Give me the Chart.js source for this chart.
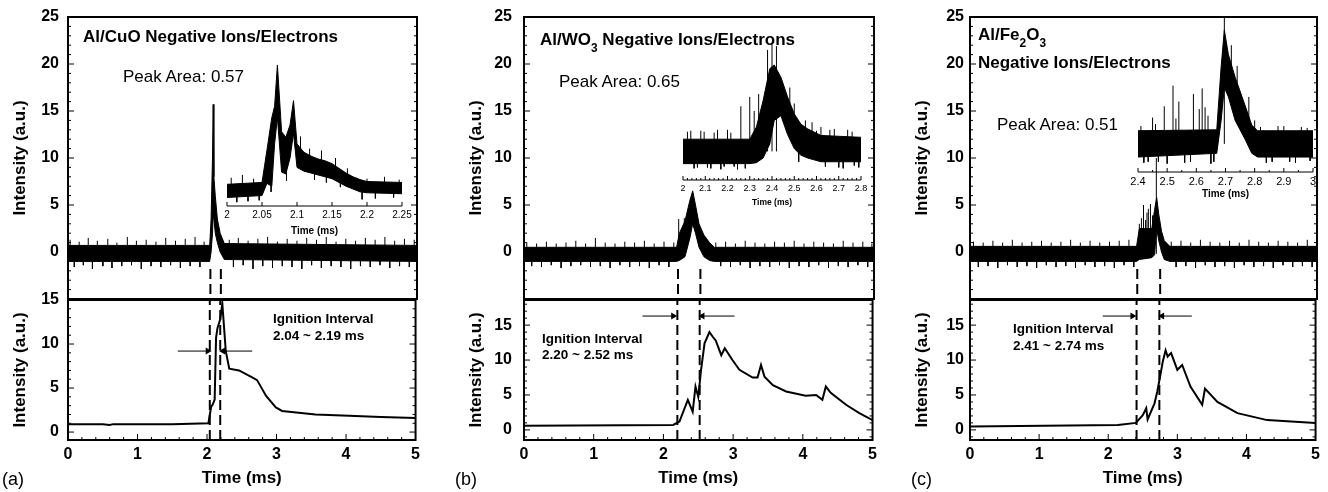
<!DOCTYPE html>
<html>
<head>
<meta charset="utf-8">
<script src="https://cdn.jsdelivr.net/npm/chart.js@4.4.0/dist/chart.umd.min.js"></script>
<style>
  html, body { margin: 0; padding: 0; background: #fff; }
  #fig { position: relative; width: 1328px; height: 492px; overflow: hidden; background: #fff;
         font-family: "Liberation Sans", Arial, Helvetica, sans-serif; color: #000; }
  #fig canvas { position: absolute; }
  .lbl { position: absolute; white-space: nowrap; line-height: 1; }
  .lbl sub { font-size: 70%; line-height: 0; vertical-align: -0.55em; }
</style>
</head>
<body>
<div id="fig"></div>
<script>
// ---- main traces (top plots): noise band envelope ----
const aTopX  = [0, 2.03, 2.05, 2.07, 2.08, 2.09, 2.11, 2.14, 2.18, 2.24, 5];
const aTopHi = [0.7, 0.7, 3.5, 10, 15.7, 8, 6, 3.5, 2, 0.9, 0.7];
const aTopLo = [-1, -1, 0, 2, 4, 3.5, 2, 1, 0, -0.8, -1];
// noise spikes sticking out of the band: [time, tip, (base)]
const aSpikes = [[0.03,1.3],[0.09,-1.6],[0.16,1.1],[0.22,-1.4],[0.29,1.5],[0.35,-1.8],[0.42,1.2],[0.5,-1.5],[0.57,1.4],[0.63,-1.7],[0.7,1.0],[0.77,-1.5],[0.85,1.6],[0.91,-1.4],[0.98,1.2],[1.05,-1.8],[1.12,1.3],[1.19,-1.5],[1.26,1.1],[1.33,-1.6],[1.4,1.5],[1.47,-1.4],[1.54,1.2],[1.61,-1.7],[1.68,1.4],[1.75,-1.5],[1.82,1.6],[1.89,-1.6],[1.95,1.1],[2.31,1.3],[2.37,-1.6],[2.44,1.5],[2.51,-1.4],[2.58,1.2],[2.65,-1.8],[2.72,1.4],[2.79,-1.5],[2.86,1.6],[2.93,-1.7],[3.0,1.1],[3.07,-1.5],[3.14,1.4],[3.21,-1.6],[3.28,1.2],[3.35,-1.8],[3.42,1.5],[3.49,-1.4],[3.56,1.3],[3.63,-1.7],[3.7,1.6],[3.77,-1.5],[3.84,1.1],[3.91,-1.6],[3.98,1.4],[4.05,-1.8],[4.12,1.2],[4.19,-1.5],[4.26,1.5],[4.33,-1.6],[4.4,1.3],[4.47,-1.4],[4.54,1.6],[4.61,-1.7],[4.68,1.2],[4.75,-1.5],[4.82,1.4],[4.89,-1.6],[4.96,1.3]];

const bTopX  = [0, 2.18, 2.22, 2.30, 2.37, 2.41, 2.45, 2.50, 2.57, 2.65, 2.72, 5];
const bTopHi = [0.5, 0.5, 2.0, 3.3, 5.5, 6.5, 5.0, 3.0, 1.8, 1.0, 0.5, 0.5];
const bTopLo = [-1, -1, -0.9, -0.5, 1.5, 3, 2, 0.5, -0.5, -0.9, -1, -1];
const bSpikes = [[0.04,1.0],[0.11,-1.5],[0.18,0.9],[0.25,-1.6],[0.32,1.1],[0.39,-1.4],[0.46,0.9],[0.53,-1.7],[0.6,1.0],[0.67,-1.5],[0.74,1.2],[0.81,-1.4],[0.88,0.9],[0.95,-1.6],[1.02,1.5],[1.09,-1.5],[1.16,1.0],[1.23,-1.7],[1.3,0.9],[1.37,-1.4],[1.44,1.1],[1.51,-1.6],[1.58,1.0],[1.65,-1.5],[1.72,1.2],[1.79,-1.7],[1.86,0.9],[1.93,-1.4],[2.0,1.1],[2.07,-1.6],[2.14,1.0],[2.21,3.5],[2.29,3.6],[2.74,1.0],[2.81,-1.5],[2.88,1.1],[2.95,-1.6],[3.02,0.9],[3.09,-1.4],[3.16,1.2],[3.23,-1.7],[3.3,1.0],[3.37,-1.5],[3.44,0.9],[3.51,-1.6],[3.58,1.1],[3.65,-1.4],[3.72,1.0],[3.79,-1.7],[3.86,1.2],[3.93,-1.5],[4.0,0.9],[4.07,-1.6],[4.14,1.1],[4.21,-1.4],[4.28,1.0],[4.35,-1.7],[4.42,0.9],[4.49,-1.5],[4.56,1.2],[4.63,-1.6],[4.7,1.0],[4.77,-1.4],[4.84,1.1],[4.91,-1.6],[4.97,0.9]];

const cTopX  = [0, 2.40, 2.44, 2.62, 2.66, 2.69, 2.72, 2.76, 2.80, 2.88, 5];
const cTopHi = [0.6, 0.6, 2.5, 2.5, 4.5, 5.8, 4.0, 2.2, 1.2, 0.6, 0.6];
const cTopLo = [-1, -1, -0.8, -0.6, -0.3, 2.5, 1.2, 0, -0.8, -1, -1];
const cSpikes = [[0.05,1.1],[0.12,-1.6],[0.19,1.0],[0.26,-1.5],[0.33,1.2],[0.4,-1.7],[0.47,1.0],[0.54,-1.4],[0.61,1.3],[0.68,-1.6],[0.75,1.0],[0.82,-1.5],[0.89,1.1],[0.96,-1.7],[1.03,1.2],[1.1,-1.4],[1.17,1.0],[1.24,-1.6],[1.31,1.1],[1.38,-1.5],[1.45,1.3],[1.52,-1.7],[1.59,1.0],[1.66,-1.4],[1.73,1.2],[1.8,-1.6],[1.87,1.0],[1.94,-1.5],[2.01,1.1],[2.08,-1.7],[2.15,1.2],[2.22,-1.4],[2.29,1.3],[2.36,-1.6],[2.44,3.0],[2.47,3.6],[2.5,5.0],[2.53,3.4],[2.55,4.2],[2.57,4.6],[2.6,5.1],[2.63,3.9],[2.685,10.0],[2.9,1.1],[2.97,-1.6],[3.04,1.2],[3.11,-1.5],[3.18,1.0],[3.25,-1.7],[3.32,1.3],[3.39,-1.4],[3.46,1.1],[3.53,-1.6],[3.6,1.0],[3.67,-1.5],[3.74,1.2],[3.81,-1.7],[3.88,1.0],[3.95,-1.4],[4.02,1.3],[4.09,-1.6],[4.16,1.1],[4.23,-1.5],[4.3,1.0],[4.37,-1.7],[4.44,1.2],[4.51,-1.4],[4.58,1.1],[4.65,-1.6],[4.72,1.0],[4.79,-1.5],[4.86,1.3],[4.93,-1.6]];

// ---- insets (heights given in the main plot's intensity units) ----
const iaX  = [2.0, 2.05, 2.057, 2.064, 2.068, 2.072, 2.078, 2.084, 2.09, 2.095, 2.10, 2.11, 2.12, 2.13, 2.14, 2.15, 2.16, 2.17, 2.18, 2.19, 2.2, 2.25];
const iaHi = [7.2, 7.4, 10.8, 14.3, 15.5, 19.9, 12.8, 12.2, 13.5, 16.1, 11.5, 10.6, 10.2, 9.9, 9.7, 9.4, 8.9, 8.4, 8.0, 7.7, 7.5, 7.4];
const iaLo = [5.8, 6.0, 7.3, 7.0, 11.5, 14.3, 8.5, 8.3, 10.0, 12.6, 9.0, 8.6, 8.4, 8.2, 8.0, 7.8, 7.4, 7.0, 6.7, 6.4, 6.3, 6.2];
const iaSpikes = [[2.006,7.9],[2.014,5.3],[2.022,8.2],[2.03,5.4],[2.038,7.8],[2.046,5.5],[2.063,6.4,9],[2.085,7.6,10],[2.105,12.3,10],[2.118,11.0,9.4],[2.125,7.7,9.3],[2.135,10.8,9],[2.142,7.4,8.8],[2.155,10.0,8.6],[2.162,6.9,8.2],[2.172,8.9,7.6],[2.185,7.9],[2.193,5.6],[2.2,7.8],[2.212,5.7],[2.225,8.0],[2.238,5.8],[2.246,7.7]];

const ibX  = [2.0, 2.30, 2.33, 2.36, 2.39, 2.41, 2.44, 2.47, 2.50, 2.53, 2.56, 2.62, 2.8];
const ibHi = [12.0, 12.0, 13.3, 16.1, 19.5, 19.9, 18.6, 16.5, 14.7, 13.6, 13.1, 12.4, 12.2];
const ibLo = [9.4, 9.4, 9.5, 10.0, 11.5, 14.0, 14.5, 12.5, 11.0, 10.3, 10.0, 9.6, 9.6];
const ibSpikes = [[2.02,12.8],[2.035,12.9],[2.05,8.9],[2.065,9.0],[2.08,12.9],[2.095,12.8],[2.11,9.0],[2.125,8.9],[2.14,12.7],[2.155,13.0],[2.17,8.8],[2.185,9.1],[2.2,13.0],[2.215,12.7],[2.23,9.1],[2.245,8.8],[2.26,15.5],[2.28,8.9],[2.3,16.5],[2.32,15.0],[2.34,16.8],[2.38,21.5],[2.4,22.1],[2.42,21.9],[2.48,17.5,14],[2.5,15.8,12.5],[2.52,9.6,11.5],[2.55,14.0,11.5],[2.58,13.8,11],[2.6,12.9],[2.62,13.3,11],[2.64,9.1],[2.66,13.0],[2.68,13.1],[2.7,9.0],[2.72,8.9],[2.74,13.0],[2.76,12.8],[2.77,9.2],[2.79,9.0]];

const icX  = [2.4, 2.67, 2.685, 2.696, 2.71, 2.733, 2.767, 2.79, 2.81, 3.0];
const icHi = [12.9, 13.0, 19.7, 23.6, 21.0, 18.6, 15.6, 13.5, 12.9, 12.9];
const icLo = [10.1, 10.5, 14.0, 17.5, 16.5, 14.0, 12.0, 10.5, 10.1, 10.1];
const icSpikes = [[2.41,13.4],[2.42,9.5],[2.435,9.6],[2.45,14.3],[2.46,13.6],[2.47,9.6],[2.49,15.5],[2.5,9.4],[2.52,17.7],[2.53,14.2],[2.54,16.0],[2.56,9.5],[2.58,9.6],[2.59,16.8],[2.61,15.2],[2.62,17.4],[2.63,15.4],[2.64,14.5],[2.65,9.4],[2.66,9.6],[2.696,25.0],[2.72,22,18],[2.74,19.8,16],[2.75,13.2,15],[2.78,16.5,13],[2.8,14,12],[2.82,13.3],[2.84,9.5],[2.86,9.6],[2.88,13.4],[2.9,13.4],[2.92,9.6],[2.94,9.5],[2.96,13.3],[2.98,13.2],[2.99,9.7]];

// ---- bottom plots ----
const aBotX = [0, 0.5, 0.6, 0.65, 1.0, 1.5, 2.02, 2.06, 2.08, 2.11, 2.13, 2.15, 2.19, 2.22, 2.27, 2.32, 2.46, 2.65, 2.72, 2.85, 2.99, 3.08, 3.56, 4.04, 4.5, 5.0];
const aBotY = [0.9, 0.9, 0.8, 0.9, 0.9, 0.9, 1.0, 2.9, 3.1, 3.7, 10.7, 11.8, 12.8, 14.6, 9.2, 7.2, 7.0, 6.2, 5.9, 4.1, 2.8, 2.4, 2.0, 1.85, 1.7, 1.6];
const bBotX = [0, 2.14, 2.23, 2.35, 2.42, 2.46, 2.50, 2.54, 2.59, 2.66, 2.71, 2.75, 2.83, 2.88, 2.99, 3.09, 3.28, 3.35, 3.40, 3.45, 3.57, 3.76, 4.04, 4.19, 4.28, 4.33, 4.40, 4.62, 4.81, 5.0];
const bBotY = [0.6, 0.7, 1.2, 4.3, 2.6, 6.2, 4.7, 8.6, 12.4, 14.0, 13.3, 12.8, 10.7, 11.7, 10.0, 8.6, 7.5, 7.5, 9.3, 7.6, 6.4, 5.5, 4.9, 5.0, 4.3, 6.2, 5.3, 3.6, 2.4, 1.4];
const cBotX = [0, 2.14, 2.40, 2.50, 2.55, 2.57, 2.67, 2.71, 2.75, 2.79, 2.83, 2.86, 2.91, 3.0, 3.07, 3.19, 3.36, 3.40, 3.58, 3.87, 4.30, 5.0];
const cBotY = [0.5, 0.7, 1.0, 2.1, 3.1, 1.5, 3.8, 5.5, 7.6, 9.8, 11.4, 10.5, 11.0, 8.6, 9.3, 6.2, 3.6, 5.9, 4.0, 2.4, 1.4, 1.0];

// ignition interval markers (ms) and arrows
const aDash = [2.04, 2.19], bDash = [2.20, 2.52], cDash = [2.41, 2.74];
const aArrowY = 9.2,  aArrowL = [1.58, 2.01], aArrowR = [2.65, 2.23];
const bArrowY = 16.3, bArrowL = [1.70, 2.14], bArrowR = [3.02, 2.56];
const cArrowY = 16.3, cArrowL = [1.92, 2.35], cArrowR = [3.21, 2.78];

const FONT = '"Liberation Sans", Arial, Helvetica, sans-serif';
Chart.defaults.font.family = FONT;
Chart.defaults.color = '#000';
Chart.defaults.animation = false;
Chart.defaults.events = [];
Chart.defaults.plugins.legend.display = false;
Chart.defaults.plugins.tooltip.enabled = false;
Chart.defaults.elements.point.radius = 0;
Chart.defaults.elements.line.tension = 0;

// frame + inward tick marks
const framePlugin = {
  id: 'frame',
  afterDatasetsDraw(chart, args, o) {
    if (!o || !o.mode) return;
    const { ctx, chartArea: a, scales } = chart;
    const marks = (scale, spec, draw) => {
      const start = Math.ceil(scale.min / spec.minor - 1e-6);
      for (let k = start; k * spec.minor <= scale.max + 1e-9; k++) {
        const v = k * spec.minor;
        const r = v / spec.major;
        const major = Math.abs(r - Math.round(r)) < 1e-6;
        draw(scale.getPixelForValue(v), major ? spec.len[0] : spec.len[1]);
      }
    };
    ctx.save();
    ctx.strokeStyle = '#000';
    ctx.lineWidth = o.tickWidth || 1;
    ctx.beginPath();
    if (o.y) marks(scales.y, o.y, (p, L) => {
      ctx.moveTo(a.left, p); ctx.lineTo(a.left + L, p);
      ctx.moveTo(a.right, p); ctx.lineTo(a.right - L, p);
    });
    if (o.x) marks(scales.x, o.x, (p, L) => {
      ctx.moveTo(p, a.bottom); ctx.lineTo(p, a.bottom - L);
    });
    ctx.stroke();
    ctx.lineWidth = o.lineWidth || 1;
    if (o.mode === 'box') {
      ctx.strokeRect(a.left, a.top, a.right - a.left, a.bottom - a.top);
    } else {
      ctx.beginPath();
      ctx.moveTo(a.left, a.bottom); ctx.lineTo(a.right + (o.extra || 0), a.bottom);
      ctx.stroke();
    }
    ctx.restore();
  }
};
Chart.register(framePlugin);

const fig = document.getElementById('fig');
function addCanvas(left, top, w, h) {
  const c = document.createElement('canvas');
  c.width = w; c.height = h;
  c.style.left = left + 'px'; c.style.top = top + 'px';
  c.style.width = w + 'px'; c.style.height = h + 'px';
  fig.appendChild(c);
  return c;
}
const pts = (xs, ys) => xs.map((x, i) => ({ x, y: ys[i] }));
const spikes = (list, base) => list.flatMap(([x, y, b = base]) => [{ x, y: b }, { x, y }, { x, y: null }]);
const vlines = (xs, y0, y1) => xs.flatMap(x => [{ x, y: y0 }, { x, y: y1 }, { x, y: null }]);

const TOP = 17, MID = 299, BOT = 440;        // plot frame rows (px)
const PXU = (MID - TOP) / 30;               // px per intensity unit in the top plots

const panels = [
  { L: 68,  R: 417,  pad: 9,  botMin: -0.9,  botMax: 15,
    band: [aTopX, aTopHi, aTopLo], sp: aSpikes, line: [aBotX, aBotY],
    dash: aDash, arrY: aArrowY, arrL: aArrowL, arrR: aArrowR },
  { L: 524, R: 874,  pad: 12, botMin: -1.45, botMax: 18.6,
    band: [bTopX, bTopHi, bTopLo], sp: bSpikes, line: [bBotX, bBotY],
    dash: bDash, arrY: bArrowY, arrL: bArrowL, arrR: bArrowR },
  { L: 970, R: 1317, pad: 6,  botMin: -1.45, botMax: 18.6,
    band: [cTopX, cTopHi, cTopLo], sp: cSpikes, line: [cBotX, cBotY],
    dash: cDash, arrY: cArrowY, arrL: cArrowL, arrR: cArrowR }
];

const insets = [
  { L: 227, R: 402, top: 40, axisY: 206, axisH: 32, min: 2, max: 2.25, step: 0.05, minor: 0.05,
    tickPad: 3, font: 10, titleFont: 10, titlePad: 1, band: [iaX, iaHi, iaLo], sp: iaSpikes, base: 6.6 },
  { L: 683, R: 861, top: 30, axisY: 180, axisH: 30, min: 2, max: 2.8, step: 0.1, minor: 0.02,
    tickPad: 3, font: 9, titleFont: 8.5, titlePad: 2, band: [ibX, ibHi, ibLo], sp: ibSpikes, base: 10.7 },
  { L: 1138, R: 1313, top: 17, axisY: 172, axisH: 28, min: 2.4, max: 3.0, step: 0.1, minor: 0.05,
    tickPad: 3, font: 11, titleFont: 10, titlePad: 0, band: [icX, icHi, icLo], sp: icSpikes, base: 11.5 }
];

const bold = (size) => ({ size, weight: 'bold', family: FONT });
const hidden = { display: false, drawTicks: false };

function yAxis(min, max, pad) {
  return {
    type: 'linear', min, max,
    afterFit: s => { s.width = 68; },
    grid: hidden, border: { display: false },
    ticks: { stepSize: 5, includeBounds: false, padding: pad, font: bold(16),
             callback: v => (v < 0 ? '' : v) },
    title: { display: true, text: 'Intensity (a.u.)', font: bold(17), padding: { top: 10, bottom: 0 } }
  };
}

// insets first so the main frames sit on top of them
insets.forEach(s => {
  const padL = 16, padR = 16;
  const h = s.axisY - s.top + s.axisH;
  const c = addCanvas(s.L - padL, s.top, s.R - s.L + padL + padR, h);
  const yMax = 25 - (s.top - TOP) / PXU, yMin = 25 - (s.axisY - TOP) / PXU;
  new Chart(c, {
    type: 'line',
    data: { datasets: [
      { data: pts(s.band[0], s.band[1]), borderColor: '#000', borderWidth: 1, backgroundColor: '#000', fill: '+1' },
      { data: pts(s.band[0], s.band[2]), borderColor: '#000', borderWidth: 1, fill: false },
      { data: spikes(s.sp, s.base), borderColor: '#000', borderWidth: 1, spanGaps: false }
    ] },
    options: {
      responsive: false,
      layout: { padding: { left: padL, right: padR, top: 0, bottom: 0 } },
      plugins: { frame: { mode: 'axis', lineWidth: 1, tickWidth: 1,
                          x: { major: s.step, minor: s.minor, len: [4, 2] } } },
      scales: {
        x: { type: 'linear', min: s.min, max: s.max,
             afterFit: sc => { sc.height = s.axisH; },
             grid: hidden, border: { display: false },
             ticks: { stepSize: s.step, includeBounds: false, autoSkip: false, maxRotation: 0,
                      padding: s.tickPad, font: { size: s.font, family: FONT },
                      callback: v => String(+v.toFixed(2)) },
             title: { display: true, text: 'Time (ms)', font: bold(s.titleFont),
                       padding: { top: 0, bottom: s.titlePad } } },
        y: { type: 'linear', display: false, min: yMin, max: yMax }
      }
    }
  });
});

panels.forEach(p => {
  const left = p.L - 68, w = p.R - left + 8;

  // top: negative ions / electrons signal
  const ctTop = -12, padB = 24;
  const ct = addCanvas(left, ctTop, w, MID - ctTop + padB);
  new Chart(ct, {
    type: 'line',
    data: { datasets: [
      { data: pts(p.band[0], p.band[1]), borderColor: '#000', borderWidth: 1, backgroundColor: '#000', fill: '+1' },
      { data: pts(p.band[0], p.band[2]), borderColor: '#000', borderWidth: 1, fill: false },
      { data: spikes(p.sp, -0.2), borderColor: '#000', borderWidth: 1, spanGaps: false },
      { data: vlines(p.dash, -1.8, -5), borderColor: '#000', borderWidth: 2, borderDash: [10, 5], spanGaps: false }
    ] },
    options: {
      responsive: false,
      layout: { padding: { top: TOP - ctTop, right: 8, bottom: padB, left: 0 } },
      plugins: { frame: { mode: 'box', lineWidth: 2, tickWidth: 1,
                          y: { major: 5, minor: 1, len: [6, 3] } } },
      scales: {
        x: { type: 'linear', min: 0, max: 5, display: false },
        y: yAxis(-5, 25, p.pad)
      }
    }
  });

  // bottom: light emission
  const cbTop = 268;
  const cb = addCanvas(left, cbTop, w, 492 - cbTop);
  new Chart(cb, {
    type: 'line',
    data: { datasets: [
      { data: pts(p.line[0], p.line[1]), borderColor: '#000', borderWidth: 2, fill: false },
      { data: vlines(p.dash, p.botMin, p.botMax), borderColor: '#000', borderWidth: 2, borderDash: [10, 5], spanGaps: false },
      { data: pts(p.arrL, [p.arrY, p.arrY]), borderColor: '#000', borderWidth: 1, pointRadius: [0, 4],
        pointStyle: 'triangle', pointRotation: 90, pointBackgroundColor: '#000', pointBorderWidth: 0 },
      { data: pts(p.arrR, [p.arrY, p.arrY]), borderColor: '#000', borderWidth: 1, pointRadius: [0, 4],
        pointStyle: 'triangle', pointRotation: -90, pointBackgroundColor: '#000', pointBorderWidth: 0 }
    ] },
    options: {
      responsive: false,
      layout: { padding: { top: MID + 1 - cbTop, right: 8, bottom: 0, left: 0 } },
      plugins: { frame: { mode: 'box', lineWidth: 2, tickWidth: 1,
                          x: { major: 1, minor: 0.2, len: [6, 3] },
                          y: { major: 5, minor: 1, len: [6, 3] } } },
      scales: {
        x: { type: 'linear', min: 0, max: 5,
             afterFit: s => { s.height = 492 - BOT; },
             grid: hidden, border: { display: false },
             ticks: { stepSize: 1, includeBounds: false, maxRotation: 0, padding: 5, font: bold(16) },
             title: { display: true, text: 'Time (ms)', font: bold(17), padding: { top: 0, bottom: 3 } } },
        y: yAxis(p.botMin, p.botMax, p.pad)
      }
    }
  });
});

// text annotations: [html, x, baseline, size, bold]
const notes = [
  ['Al/CuO Negative Ions/Electrons', 83, 42, 17, true],
  ['Peak Area: 0.57', 123, 82, 17, false],
  ['Ignition Interval', 273, 323, 13.5, true],
  ['2.04 ~ 2.19 ms', 273, 340, 13.5, true],
  ['(a)', 2, 485, 18, false],
  ['Al/WO<sub>3</sub> Negative Ions/Electrons', 540, 45, 17, true],
  ['Peak Area: 0.65', 559, 87, 17, false],
  ['Ignition Interval', 542, 343, 13.5, true],
  ['2.20 ~ 2.52 ms', 542, 359, 13.5, true],
  ['(b)', 455, 485, 18, false],
  ['Al/Fe<sub>2</sub>O<sub>3</sub>', 978, 40, 17, true],
  ['Negative Ions/Electrons', 978, 68, 17, true],
  ['Peak Area: 0.51', 997, 130, 17, false],
  ['Ignition Interval', 1013, 333, 13.5, true],
  ['2.41 ~ 2.74 ms', 1013, 350, 13.5, true],
  ['(c)', 911, 485, 18, false]
];
notes.forEach(([html, x, base, size, b]) => {
  const d = document.createElement('div');
  d.className = 'lbl';
  d.innerHTML = html;
  d.style.left = x + 'px';
  d.style.top = (base - 0.8465 * size) + 'px';
  d.style.fontSize = size + 'px';
  d.style.fontWeight = b ? 'bold' : 'normal';
  fig.appendChild(d);
});
</script>
</body>
</html>
